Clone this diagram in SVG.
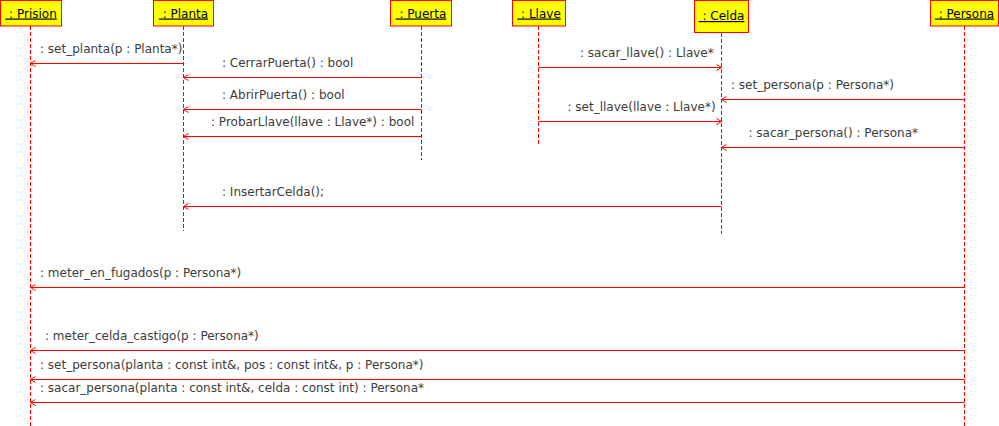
<svg xmlns="http://www.w3.org/2000/svg" width="999" height="426" viewBox="0 0 999 426">
<style>
.box{fill:#ffff00;stroke:#ff0000;stroke-width:1}
.name{font-family:"DejaVu Sans",sans-serif;font-size:12px;fill:#000;text-anchor:middle;text-decoration:underline}
.life{stroke:#ff0000;stroke-width:1;stroke-dasharray:4 2;fill:none}
.msg{stroke:#ff0000;stroke-width:1;fill:none;marker-end:url(#arr)}
.lbl{font-family:"DejaVu Sans",sans-serif;font-size:12px;fill:#3c3c3c}
</style>
<defs>
<marker id="arr" markerUnits="userSpaceOnUse" viewBox="-7 -5 8 10" markerWidth="8" markerHeight="10" refX="0" refY="0" orient="auto" overflow="visible">
<path d="M-5,-3 L0,0 L-5,3" fill="none" stroke="#ff0000" stroke-width="1"/>
</marker>
</defs>
<g id="node-prision">
<rect class="box" x="0.5" y="0.5" width="61" height="25.5"/>
<text class="name" x="31" y="17.5" xml:space="preserve"> : Prision</text>
<line class="life" x1="30.5" y1="26" x2="30.5" y2="426"/>
</g>
<g id="node-planta">
<rect class="box" x="153.5" y="0.5" width="60" height="25.5"/>
<text class="name" x="183.5" y="17.5" xml:space="preserve"> : Planta</text>
<line class="life" x1="183.5" y1="26" x2="183.5" y2="231"/>
</g>
<g id="node-puerta">
<rect class="box" x="390.5" y="0.5" width="61" height="25.5"/>
<text class="name" x="421" y="17.5" xml:space="preserve"> : Puerta</text>
<line class="life" x1="421.5" y1="26" x2="421.5" y2="160"/>
</g>
<g id="node-llave">
<rect class="box" x="512.5" y="0.5" width="53" height="25.5"/>
<text class="name" x="539" y="17.5" xml:space="preserve"> : Llave</text>
<line class="life" x1="538.5" y1="26" x2="538.5" y2="144"/>
</g>
<g id="node-celda">
<rect class="box" x="694.5" y="0.5" width="54" height="32"/>
<text class="name" x="721.5" y="20" xml:space="preserve"> : Celda</text>
<line class="life" x1="721.5" y1="33" x2="721.5" y2="234"/>
</g>
<g id="node-persona">
<rect class="box" x="930.5" y="0.5" width="68" height="25.5"/>
<text class="name" x="964.5" y="17.5" xml:space="preserve"> : Persona</text>
<line class="life" x1="964.5" y1="26" x2="964.5" y2="426"/>
</g>
<g id="connectors">
<line class="msg" x1="183.5" y1="63.5" x2="30.5" y2="63.5"/>
<text class="lbl" x="40" y="53">: set_planta(p : Planta*)</text>
<line class="msg" x1="421.5" y1="77.5" x2="183.5" y2="77.5"/>
<text class="lbl" x="222" y="67">: CerrarPuerta() : bool</text>
<line class="msg" x1="421.5" y1="109.5" x2="183.5" y2="109.5"/>
<text class="lbl" x="222" y="99">: AbrirPuerta() : bool</text>
<line class="msg" x1="421.5" y1="136.5" x2="183.5" y2="136.5"/>
<text class="lbl" x="211" y="126">: ProbarLlave(llave : Llave*) : bool</text>
<line class="msg" x1="538.5" y1="67.5" x2="721.5" y2="67.5"/>
<text class="lbl" x="580" y="57">: sacar_llave() : Llave*</text>
<line class="msg" x1="964.5" y1="99.5" x2="721.5" y2="99.5"/>
<text class="lbl" x="731" y="89">: set_persona(p : Persona*)</text>
<line class="msg" x1="538.5" y1="121.5" x2="721.5" y2="121.5"/>
<text class="lbl" x="567.5" y="111">: set_llave(llave : Llave*)</text>
<line class="msg" x1="964.5" y1="147.5" x2="721.5" y2="147.5"/>
<text class="lbl" x="748.5" y="137">: sacar_persona() : Persona*</text>
<line class="msg" x1="721.5" y1="206.5" x2="183.5" y2="206.5"/>
<text class="lbl" x="222" y="196">: InsertarCelda();</text>
<line class="msg" x1="964.5" y1="287.5" x2="30.5" y2="287.5"/>
<text class="lbl" x="40" y="277">: meter_en_fugados(p : Persona*)</text>
<line class="msg" x1="964.5" y1="350.5" x2="30.5" y2="350.5"/>
<text class="lbl" x="45" y="340">: meter_celda_castigo(p : Persona*)</text>
<line class="msg" x1="964.5" y1="379.5" x2="30.5" y2="379.5"/>
<text class="lbl" x="40" y="369">: set_persona(planta : const int&amp;, pos : const int&amp;, p : Persona*)</text>
<line class="msg" x1="964.5" y1="402.5" x2="30.5" y2="402.5"/>
<text class="lbl" x="40" y="392">: sacar_persona(planta : const int&amp;, celda : const int) : Persona*</text>
</g>
</svg>
